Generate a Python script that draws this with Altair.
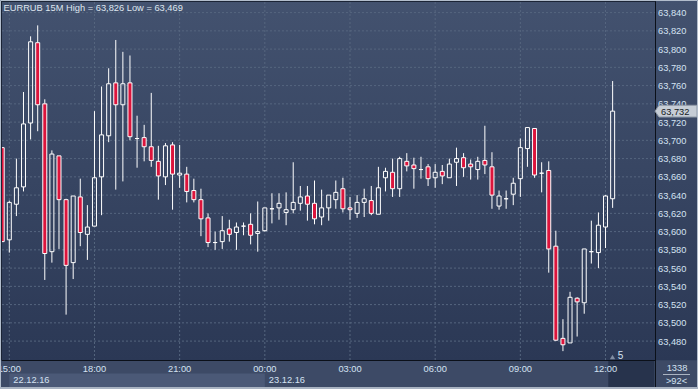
import altair as alt
import pandas as pd

# ---------------- data ----------------
# first candle is 14:45 (index -1), then one candle every 15 minutes
first_index = -1
opens = [63.692, 63.591, 63.630, 63.649, 63.719, 63.807, 63.740, 63.578, 63.683, 63.635,
         63.566, 63.638, 63.597, 63.606, 63.660, 63.705, 63.763, 63.739, 63.763, 63.702,
         63.703, 63.693, 63.677, 63.660, 63.695, 63.662, 63.663, 63.645, 63.635, 63.615,
         63.588, 63.589, 63.603, 63.599, 63.606, 63.608, 63.598, 63.601, 63.625, 63.626,
         63.621, 63.624, 63.631, 63.639, 63.631, 63.616, 63.626, 63.635, 63.647, 63.626,
         63.620, 63.632, 63.634, 63.619, 63.659, 63.665, 63.647, 63.677, 63.673, 63.668,
         63.671, 63.659, 63.666, 63.659, 63.676, 63.681, 63.674, 63.668, 63.678, 63.671,
         63.628, 63.636, 63.641, 63.658, 63.691, 63.713, 63.664, 63.667, 63.584, 63.483,
         63.478, 63.527, 63.522, 63.578, 63.577, 63.605, 63.636]
highs = [63.692, 63.634, 63.680, 63.753, 63.814, 63.826, 63.745, 63.689, 63.683, 63.636,
         63.639, 63.658, 63.629, 63.732, 63.759, 63.779, 63.810, 63.797, 63.793, 63.727,
         63.717, 63.752, 63.694, 63.697, 63.698, 63.695, 63.671, 63.658, 63.647, 63.620,
         63.600, 63.617, 63.613, 63.610, 63.610, 63.620, 63.633, 63.626, 63.642, 63.642,
         63.643, 63.676, 63.650, 63.650, 63.656, 63.646, 63.640, 63.656, 63.659, 63.638,
         63.640, 63.647, 63.650, 63.671, 63.670, 63.680, 63.682, 63.686, 63.681, 63.682,
         63.674, 63.674, 63.673, 63.680, 63.692, 63.686, 63.679, 63.682, 63.716, 63.687,
         63.645, 63.645, 63.659, 63.702, 63.714, 63.713, 63.676, 63.677, 63.601, 63.504,
         63.534, 63.528, 63.581, 63.612, 63.621, 63.640, 63.765]
lows = [63.589, 63.577, 63.617, 63.644, 63.701, 63.710, 63.547, 63.566, 63.581, 63.509,
        63.548, 63.584, 63.569, 63.606, 63.618, 63.698, 63.646, 63.655, 63.700, 63.670,
        63.677, 63.671, 63.635, 63.651, 63.624, 63.648, 63.632, 63.632, 63.595, 63.583,
        63.580, 63.581, 63.589, 63.580, 63.596, 63.586, 63.578, 63.600, 63.609, 63.613,
        63.607, 63.620, 63.623, 63.612, 63.608, 63.607, 63.612, 63.625, 63.621, 63.613,
        63.615, 63.616, 63.618, 63.619, 63.644, 63.638, 63.638, 63.666, 63.647, 63.658,
        63.650, 63.648, 63.652, 63.659, 63.650, 63.660, 63.657, 63.657, 63.663, 63.625,
        63.624, 63.625, 63.629, 63.638, 63.671, 63.659, 63.643, 63.555, 63.480, 63.469,
        63.478, 63.485, 63.510, 63.565, 63.560, 63.582, 63.626]
closes = [63.589, 63.632, 63.648, 63.718, 63.808, 63.739, 63.576, 63.685, 63.635, 63.563,
          63.639, 63.599, 63.605, 63.659, 63.706, 63.762, 63.739, 63.762, 63.704, 63.702,
          63.693, 63.678, 63.661, 63.694, 63.663, 63.664, 63.644, 63.635, 63.614, 63.588,
          63.588, 63.601, 63.597, 63.605, 63.606, 63.596, 63.600, 63.626, 63.625, 63.631,
          63.624, 63.632, 63.638, 63.630, 63.614, 63.626, 63.640, 63.643, 63.625, 63.624,
          63.632, 63.636, 63.620, 63.648, 63.666, 63.647, 63.680, 63.672, 63.669, 63.668,
          63.658, 63.665, 63.661, 63.674, 63.680, 63.670, 63.671, 63.677, 63.673, 63.640,
          63.639, 63.636, 63.653, 63.692, 63.714, 63.662, 63.664, 63.581, 63.481, 63.476,
          63.528, 63.523, 63.581, 63.578, 63.607, 63.639, 63.732]

time_tick_index = [0, 12, 24, 36, 48, 60, 72, 84]
time_tick_labels = ["15:00", "18:00", "21:00", "00:00", "03:00", "06:00", "09:00", "12:00"]
price_ticks = [63.480, 63.500, 63.520, 63.540, 63.560, 63.580, 63.600, 63.620, 63.640, 63.660,
               63.680, 63.700, 63.720, 63.740, 63.760, 63.780, 63.800, 63.820, 63.840]
date_labels = ["22.12.16", "23.12.16"]
date_start_index = [0, 36]
date_end_index = [36, 91]
title_text = "EURRUB 15M High = 63,826 Low = 63,469"
last_price = 63.732
last_price_label = "63,732"
corner_top = "1338"
corner_bottom = ">92<"
scroll_label = "5"

# ---------------- styling ----------------
FONT = "Liberation Sans"
FS = 9.3
RED = "#dc143c"
GRID = "#56667f"
TXT = "#d4e2f2"
W, H = 653, 358

x_scale = alt.Scale(domain=[-1.0285, 90.97], nice=False, zero=False, padding=0)
y_scale = alt.Scale(domain=[63.45929, 63.85162], nice=False, zero=False, padding=0)

n = len(opens)
df = pd.DataFrame({
    "i": list(range(first_index, first_index + n)),
    "open": opens, "high": highs, "low": lows, "close": closes,
})
df["top"] = df[["open", "close"]].max(axis=1)
df["bot"] = df[["open", "close"]].min(axis=1)
df["dir"] = ["up" if c >= o else "down" for o, c in zip(opens, closes)]

ticks_df = pd.DataFrame({"i": time_tick_index, "label": time_tick_labels})
price_df = pd.DataFrame({"p": price_ticks,
                         "label": [f"{v:.3f}".replace(".", ",") for v in price_ticks]})
dates_df = pd.DataFrame({"s": date_start_index, "e": date_end_index, "label": date_labels,
                         "shade": [1, 0]})
one = pd.DataFrame({"a": [0]})
lp_df = pd.DataFrame({"p": [last_price], "label": [last_price_label]})

X = lambda f: alt.X(f, scale=x_scale, axis=None)
Y = lambda f: alt.Y(f, scale=y_scale, axis=None)

grad = alt.LinearGradient(
    gradient="linear",
    stops=[alt.GradientStop(color="#43526f", offset=0),
           alt.GradientStop(color="#2b3855", offset=1)],
    x1=0, x2=0, y1=0, y2=1)

bg = alt.Chart(one).mark_rect(fill=grad, clip=False).encode(
    x=alt.value(-2), x2=alt.value(696), y=alt.value(-2), y2=alt.value(359))

hgrid = alt.Chart(price_df).mark_rule(color=GRID, strokeDash=[2, 2], strokeWidth=1).encode(
    y=Y("p:Q"), x=alt.value(0), x2=alt.value(W))
vgrid = alt.Chart(ticks_df).mark_rule(color=GRID, strokeDash=[2, 2], strokeWidth=1).encode(
    x=X("i:Q"), y=alt.value(0), y2=alt.value(H))

wick_up = alt.Chart(df).mark_rule(color="white", strokeWidth=1, clip=True).encode(
    x=X("i:Q"), y=Y("high:Q"), y2="top:Q")
wick_dn = alt.Chart(df).mark_rule(color="white", strokeWidth=1, clip=True).encode(
    x=X("i:Q"), y=Y("bot:Q"), y2="low:Q")
bodies = alt.Chart(df).mark_bar(size=4, stroke="white", strokeWidth=1, clip=True).encode(
    x=X("i:Q"), y=Y("top:Q"), y2="bot:Q",
    fill=alt.Fill("dir:N", scale=alt.Scale(domain=["up", "down"],
                                           range=["rgba(0,0,0,0)", RED]), legend=None))

# bottom time axis panel
time_panel = alt.Chart(one).mark_rect(fill="#3d4a66", clip=False).encode(
    x=alt.value(-2), x2=alt.value(696), y=alt.value(358.5), y2=alt.value(387))
date_box = alt.Chart(dates_df).transform_filter("datum.shade == 1").mark_rect(
    fill="#4b5977", clip=False).encode(
    x=X("s:Q"), x2="e:Q", y=alt.value(371.5), y2=alt.value(385))
scroll_box = alt.Chart(one).mark_rect(fill="#27334c", clip=False).encode(
    x=alt.value(606.3), x2=alt.value(652.3), y=alt.value(359), y2=alt.value(385))
corner_panel = alt.Chart(one).mark_rect(fill="#3d4a66", clip=False).encode(
    x=alt.value(654), x2=alt.value(696), y=alt.value(358.5), y2=alt.value(387))

black_v = alt.Chart(one).mark_rule(color="#0b1019", strokeWidth=1).encode(
    x=alt.value(653.5), y=alt.value(-2), y2=alt.value(387))
black_h = alt.Chart(one).mark_rule(color="#0b1019", strokeWidth=1).encode(
    y=alt.value(358.5), x=alt.value(0), x2=alt.value(653.5))
corner_line = alt.Chart(one).mark_rule(color="#aab4c2", strokeWidth=1).encode(
    y=alt.value(372.5), x=alt.value(661), x2=alt.value(688))

# texts
title = alt.Chart(one).mark_text(align="left", baseline="middle", font=FONT, fontSize=FS,
                                 color="#dfe6ef", text=title_text).encode(
    x=alt.value(1.5), y=alt.value(6.3))
ylabels = alt.Chart(price_df).mark_text(align="left", baseline="middle", font=FONT,
                                        fontSize=FS, color=TXT, dy=0.5).encode(
    y=Y("p:Q"), x=alt.value(656), text="label:N")
xlabels = alt.Chart(ticks_df).mark_text(align="center", baseline="middle", font=FONT,
                                        fontSize=FS, color=TXT).encode(
    x=X("i:Q"), y=alt.value(366.5), text="label:N")
dlabels = alt.Chart(dates_df).mark_text(align="left", baseline="middle", font=FONT,
                                        fontSize=FS, color=TXT, dx=4).encode(
    x=X("s:Q"), y=alt.value(377.5), text="label:N")
c_top = alt.Chart(one).mark_text(align="center", baseline="middle", font=FONT, fontSize=FS,
                                 color=TXT, text=corner_top).encode(
    x=alt.value(675), y=alt.value(365.5))
c_bot = alt.Chart(one).mark_text(align="center", baseline="middle", font=FONT, fontSize=FS,
                                 color=TXT, text=corner_bottom).encode(
    x=alt.value(674.5), y=alt.value(378.5))
scroll_tri = alt.Chart(one).mark_point(shape="triangle-up", filled=True, fill="#7f8ca2",
                                       size=28, opacity=1).encode(
    x=alt.value(610.5), y=alt.value(355))
scroll_txt = alt.Chart(one).mark_text(align="center", baseline="middle", font=FONT,
                                      fontSize=10, color=TXT, text=scroll_label).encode(
    x=alt.value(618.5), y=alt.value(354))

# last price marker
lp_shape = "M-1,0 L-0.81,-0.28 L1,-0.28 L1,0.28 L-0.81,0.28 Z"
lp_box = alt.Chart(lp_df).mark_point(shape=lp_shape, filled=True, fill="#c6cdd6",
                                     stroke="#8e98a6", strokeWidth=1, size=1764,
                                     opacity=1).encode(
    x=alt.value(674), y=Y("p:Q"))
lp_txt = alt.Chart(lp_df).mark_text(align="left", baseline="middle", font=FONT, fontSize=FS,
                                    color="#151a22", dy=0.5).encode(
    x=alt.value(659), y=Y("p:Q"), text="label:N")

# outer frame
frame_light = alt.Chart(one).mark_rect(fill=None, stroke="#b2bdcc", strokeWidth=1,
                                       clip=False).encode(
    x=alt.value(-1.5), x2=alt.value(695.5), y=alt.value(-1.5), y2=alt.value(386.5))
frame_bottom = alt.Chart(one).mark_rule(color="#a9b3c2", strokeWidth=2).encode(
    y=alt.value(386), x=alt.value(-2), x2=alt.value(696))
frame_dark = alt.Chart(one).mark_rule(color="#1b2436", strokeWidth=1).encode(
    x=alt.value(-0.5), y=alt.value(-1), y2=alt.value(358.5))
frame_dark2 = alt.Chart(one).mark_rule(color="#1b2436", strokeWidth=1).encode(
    y=alt.value(-0.5), x=alt.value(-1), x2=alt.value(653.5))

chart = alt.layer(
    bg, hgrid, vgrid, wick_up, wick_dn, bodies,
    time_panel, date_box, scroll_box, corner_panel,
    black_v, black_h, corner_line,
    title, ylabels, xlabels, dlabels, c_top, c_bot, scroll_tri, scroll_txt,
    lp_box, lp_txt, frame_dark, frame_dark2, frame_light, frame_bottom,
).properties(
    width=W, height=H,
    padding={"left": 2, "top": 2, "right": 43, "bottom": 29},
    autosize=alt.AutoSizeParams(type="none"),
).configure_view(stroke=None).configure(background="#3d4a66")

chart.save("out.html", embed_options={"renderer": "svg", "actions": False})
